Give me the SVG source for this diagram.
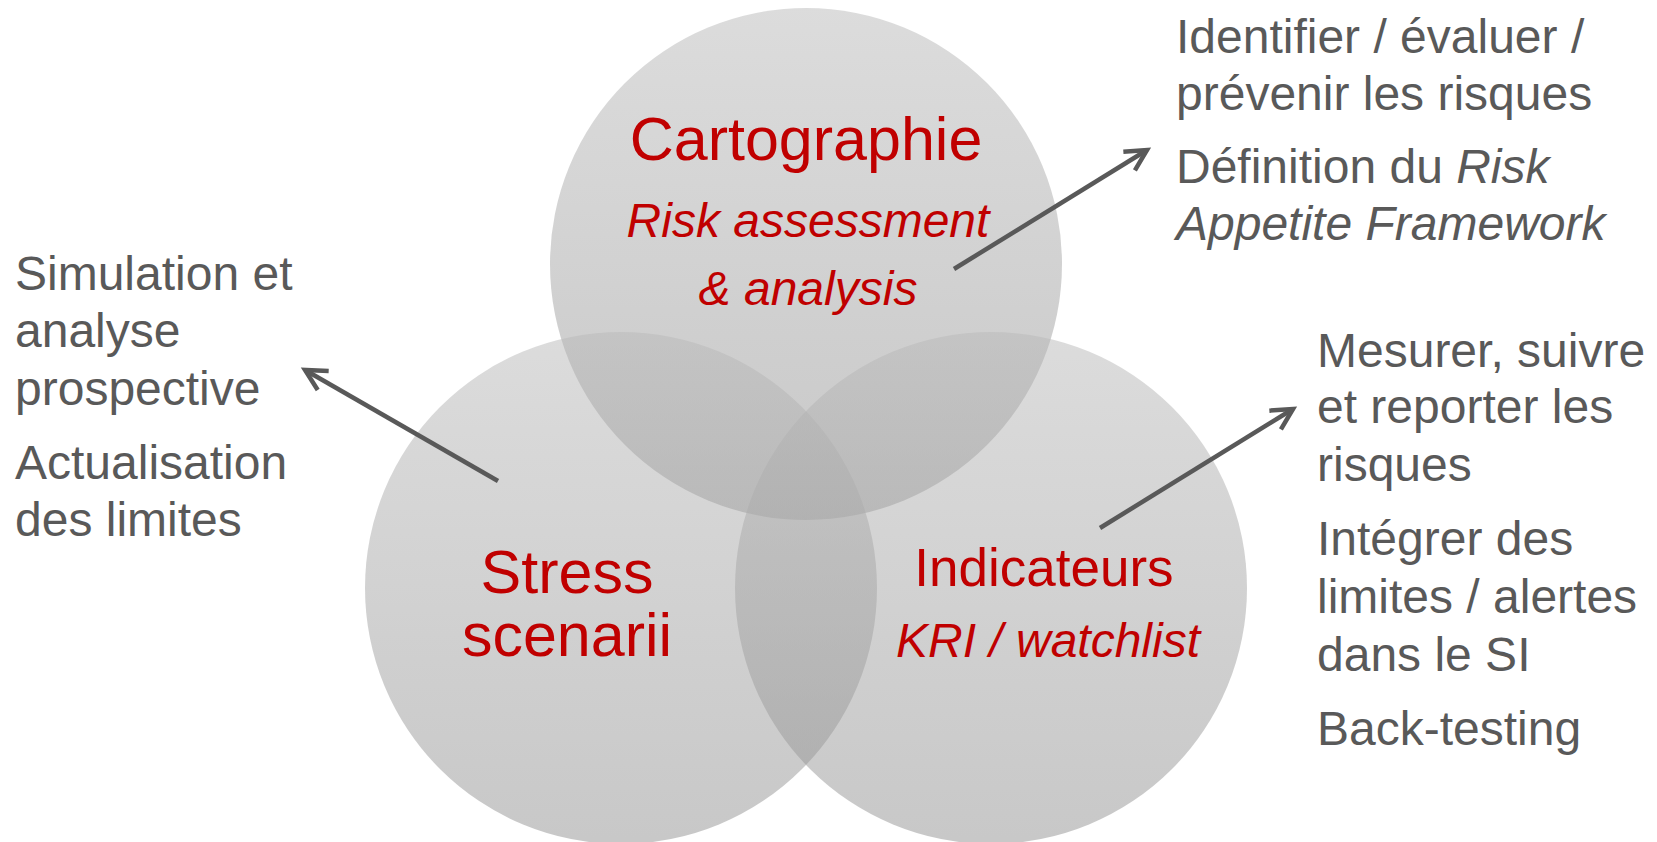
<svg xmlns="http://www.w3.org/2000/svg" width="1657" height="842" viewBox="0 0 1657 842">
<defs>
<linearGradient id="g" x1="0" y1="0" x2="0" y2="1">
<stop offset="0" stop-color="#b9b9b9"/>
<stop offset="1" stop-color="#919191"/>
</linearGradient>
<marker id="ah" markerUnits="userSpaceOnUse" markerWidth="32" markerHeight="32" viewBox="0 0 32 32" refX="27" refY="16" orient="auto" overflow="visible">
<path d="M6,5 L27,16 L6,27" fill="none" stroke="#595959" stroke-width="4.5" stroke-linecap="butt" stroke-linejoin="miter"/>
</marker>
<style>
.c{fill:url(#g);fill-opacity:0.5}
.r{fill:#c00000;font-family:"Liberation Sans",Arial,sans-serif;text-anchor:middle}
.i{font-style:italic}
.t{fill:#595959;font-family:"Liberation Sans",Arial,sans-serif;font-size:48px}
.a{stroke:#595959;stroke-width:4.5;fill:none;marker-end:url(#ah)}
</style>
</defs>
<rect width="1657" height="842" fill="#ffffff"/>
<g id="circle-cartographie">
<circle class="c" cx="806" cy="264" r="256"/>
<text class="r" x="806" y="160" font-size="61">Cartographie</text>
<text class="r i" x="808" y="237" font-size="48">Risk assessment</text>
<text class="r i" x="808" y="305" font-size="48">&amp; analysis</text>
</g>
<g id="circle-stress">
<circle class="c" cx="621" cy="588" r="256"/>
<text class="r" x="567" y="593" font-size="61">Stress</text>
<text class="r" x="567" y="656" font-size="61">scenarii</text>
</g>
<g id="circle-indicateurs">
<circle class="c" cx="991" cy="588" r="256"/>
<text class="r" x="1044" y="586" font-size="53">Indicateurs</text>
<text class="r i" x="1048" y="657" font-size="48">KRI / watchlist</text>
</g>
<g id="connectors">
<line class="a" x1="954" y1="269" x2="1147" y2="150"/>
<line class="a" x1="498" y1="481" x2="305" y2="370"/>
<line class="a" x1="1100" y1="528" x2="1293" y2="409"/>
</g>
<g id="text-left">
<text class="t" x="15" y="290">Simulation et</text>
<text class="t" x="15" y="347">analyse</text>
<text class="t" x="15" y="405">prospective</text>
<text class="t" x="15" y="479">Actualisation</text>
<text class="t" x="15" y="536">des limites</text>
</g>
<g id="text-top-right">
<text class="t" x="1176" y="53">Identifier / évaluer /</text>
<text class="t" x="1176" y="110">prévenir les risques</text>
<text class="t" x="1176" y="183">Définition du <tspan font-style="italic">Risk</tspan></text>
<text class="t" x="1176" y="240" font-style="italic">Appetite Framework</text>
</g>
<g id="text-bottom-right">
<text class="t" x="1317" y="367">Mesurer, suivre</text>
<text class="t" x="1317" y="423">et reporter les</text>
<text class="t" x="1317" y="481">risques</text>
<text class="t" x="1317" y="555">Intégrer des</text>
<text class="t" x="1317" y="613">limites / alertes</text>
<text class="t" x="1317" y="671">dans le SI</text>
<text class="t" x="1317" y="745">Back-testing</text>
</g>
</svg>
